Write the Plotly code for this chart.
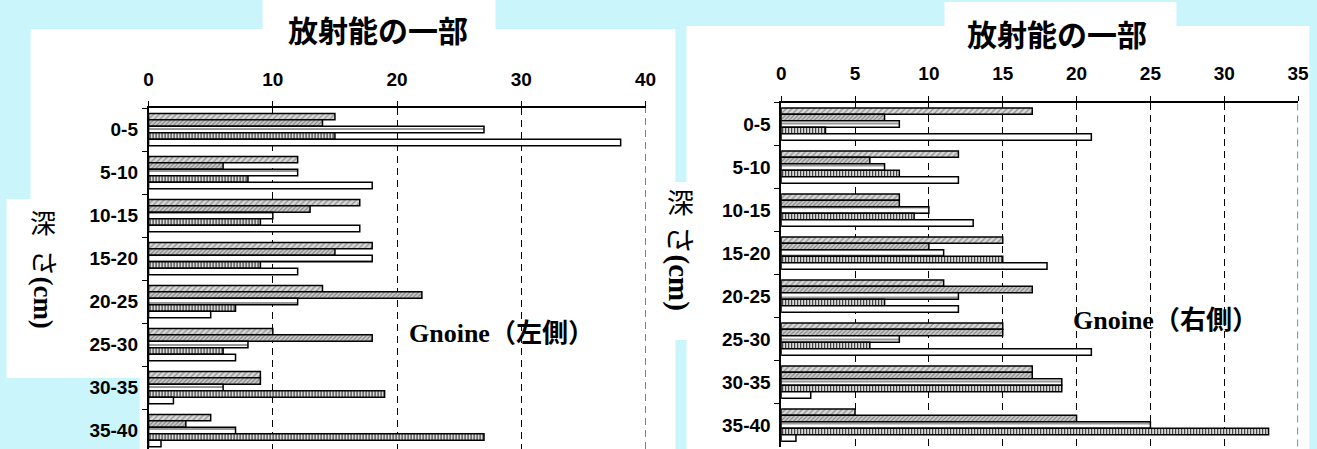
import plotly.graph_objects as go

W, H = 1317, 449

# Depth bands (cm)
depths = ["0-5", "5-10", "10-15", "15-20", "20-25", "25-30", "30-35", "35-40"]

# Left side (左側): five series per depth band
left_s1 = [15, 12, 17, 18, 14, 10, 9, 5]
left_s2 = [14, 6, 13, 15, 22, 18, 9, 3]
left_s3 = [27, 12, 10, 18, 12, 8, 6, 7]
left_s4 = [15, 8, 9, 9, 7, 6, 19, 27]
left_s5 = [38, 18, 17, 12, 5, 7, 2, 1]

# Right side (右側)
right_s1 = [17, 12, 8, 15, 11, 15, 17, 5]
right_s2 = [7, 6, 8, 10, 17, 15, 17, 20]
right_s3 = [8, 7, 10, 11, 12, 8, 19, 25]
right_s4 = [3, 8, 9, 15, 7, 6, 19, 33]
right_s5 = [21, 12, 13, 18, 12, 21, 2, 1]

left_ticks = [0, 10, 20, 30, 40]
right_ticks = [0, 5, 10, 15, 20, 25, 30, 35]

title_text = "放射能の一部"
left_label = "Gnoine（左側）"
right_label = "Gnoine（右側）"

BG = "#c9f5fb"

# fill styles for the five series (top to bottom in each band)
styles = [
    dict(bgcolor="#d8d8d8", fgcolor="#8e8e8e", shape="/", size=4, solidity=0.3),
    dict(bgcolor="#cacaca", fgcolor="#7e7e7e", shape="/", size=3, solidity=0.35),
    dict(bgcolor="#ffffff", fgcolor="#8c8c8c", shape="-", size=6, solidity=0.3),
    dict(bgcolor="#ffffff", fgcolor="#222222", shape="|", size=3, solidity=0.45),
    None,
]


def px_x(v):
    # horizontal pixel position -> paper fraction (small correction for page scaling)
    return (v - 5.4) / 0.988 / W


def px_y(v):
    return 1 - v / H


fig = go.Figure()

for axis_id, series in (("", [left_s1, left_s2, left_s3, left_s4, left_s5]),
                        ("2", [right_s1, right_s2, right_s3, right_s4, right_s5])):
    for vals, st in zip(series, styles):
        marker = dict(color="#ffffff", line=dict(color="black", width=1.5))
        if st is not None:
            marker["color"] = st["bgcolor"]
            marker["pattern"] = dict(shape=st["shape"], bgcolor=st["bgcolor"],
                                     fgcolor=st["fgcolor"], size=st["size"],
                                     solidity=st["solidity"], fillmode="replace")
        fig.add_trace(go.Bar(
            x=vals, y=depths, orientation="h", marker=marker,
            xaxis="x" + axis_id, yaxis="y" + axis_id, showlegend=False,
            hoverinfo="x+y",
        ))

tick_font = dict(family="Liberation Sans, Arial, sans-serif", size=19, color="black", weight="bold")

x_common = dict(
    side="top", showline=True, linecolor="black", linewidth=1.5,
    ticks="outside", ticklen=5, tickcolor="black", tickwidth=1,
    showgrid=True, gridcolor="black", gridwidth=1, griddash="7px,5px",
    zeroline=False, tickfont=tick_font, ticklabelstandoff=8, fixedrange=True,
)
y_common = dict(
    type="category", showline=True, linecolor="black", linewidth=1.5,
    ticks="outside", ticklen=5, tickcolor="black", tickwidth=1,
    tickson="boundaries", showgrid=False, zeroline=False,
    tickfont=tick_font, ticklabelstandoff=5, fixedrange=True,
)

# left plot: top edge at y=108 px, 43 px per band, runs off the bottom
left_top = 108
left_span = (H - left_top) / 43.0
right_top, right_bot = 102.5, 446.5

fig.update_layout(
    width=W, height=H,
    margin=dict(l=0, r=0, t=0, b=0),
    paper_bgcolor=BG, plot_bgcolor="rgba(0,0,0,0)",
    barmode="group", bargap=0.25, bargroupgap=0,
    xaxis=dict(x_common, domain=[px_x(149), px_x(646)], range=[0, 40],
               tickvals=left_ticks, anchor="y"),
    yaxis=dict(y_common, domain=[0, px_y(left_top)],
               range=[-0.5 + left_span, -0.5], anchor="x"),
    xaxis2=dict(x_common, domain=[px_x(781.7), px_x(1298.7)], range=[0, 35],
                tickvals=right_ticks, anchor="y2"),
    yaxis2=dict(y_common, domain=[px_y(right_bot), px_y(right_top)],
                range=[7.5, -0.5], anchor="x2"),
)


def rect(x0, y0, x1, y1):
    return dict(type="rect", xref="paper", yref="paper", layer="below",
                x0=px_x(x0), x1=px_x(x1), y0=px_y(y1), y1=px_y(y0),
                fillcolor="white", line=dict(width=0))


def edge_grid(xref, yref, xval):
    # dashed grid line at the far end of each value axis
    return dict(type="line", xref=xref, yref=yref + " domain", x0=xval, x1=xval,
                y0=0, y1=1, layer="above", line=dict(color="black", width=1, dash="7px,5px"))


fig.update_layout(shapes=[
    rect(31, 29, 676, 378),
    rect(140, 378, 676, 449),
    rect(7, 199, 66, 378),
    rect(263, 0, 496, 30),
    rect(687, 26, 1310, 449),
    rect(945, 2, 1177, 27),
    rect(652, 182, 690, 340),
    edge_grid("x", "y", left_ticks[-1]),
    edge_grid("x2", "y2", right_ticks[-1]),
])


def note(text, x, y, size, family, bold=True, angle=0):
    fig.add_annotation(
        text=text, xref="paper", yref="paper", x=px_x(x), y=px_y(y),
        xanchor="center", yanchor="middle", showarrow=False, textangle=angle,
        font=dict(family=family, size=size, color="black",
                  weight="bold" if bold else "normal"),
    )


cjk = "Noto Sans CJK JP, sans-serif"
serif = "Liberation Serif, Noto Sans CJK JP, serif"

note(title_text, 378, 29, 30, cjk)
note(title_text, 1058, 33, 30, cjk)
note(left_label, 502, 333, 26, serif)
note(right_label, 1166, 320, 26, serif)

# vertical axis titles: 深 upright, the rest turned sideways
note("深", 43, 224, 26, serif, bold=False)
note("さ<b>(cm)</b>", 43, 289, 27, serif, bold=False, angle=90)
note("深", 681, 204, 27, serif, bold=False)
note("さ<b>(cm)</b>", 680, 268, 29, serif, bold=False, angle=90)

fig.write_html("out.html")
